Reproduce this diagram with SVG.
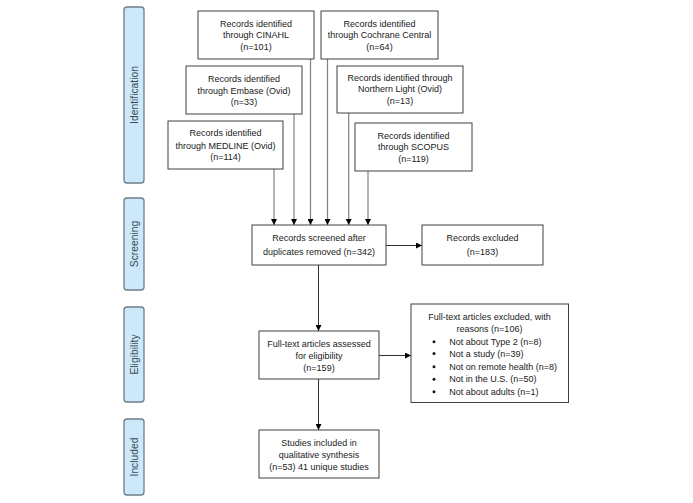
<svg xmlns="http://www.w3.org/2000/svg" width="693" height="503" viewBox="0 0 693 503">
<style>
.bg{fill:#ffffff}
.box{fill:#ffffff;stroke:#404040;stroke-width:1}
.bar{fill:#cce8fb;stroke:#6e7e89;stroke-width:1.3}
.t{font-family:"Liberation Sans",Arial,sans-serif;font-size:9px;fill:#1a1a1a;text-anchor:middle}
.tl{font-family:"Liberation Sans",Arial,sans-serif;font-size:9px;fill:#1a1a1a}
.bt{font-family:"Liberation Sans",Arial,sans-serif;font-size:10.3px;fill:#3c4a55;text-anchor:middle}
.c1{stroke:#808080;stroke-width:1.2;fill:none}
.c2{stroke:#303030;stroke-width:1;fill:none}
</style>
<defs>
<marker id="ah" markerUnits="userSpaceOnUse" markerWidth="6" markerHeight="6" refX="6" refY="3" orient="auto">
<path d="M0,0 L6,3 L0,6 Z" fill="#000"/>
</marker>
</defs>
<rect class="bg" x="0" y="0" width="693" height="503"/>

<g id="bar-identification">
<rect class="bar" x="124" y="7" width="20" height="176" rx="3"/>
<text class="bt" transform="translate(137.8,95) rotate(-90)">Identification</text>
</g>
<g id="bar-screening">
<rect class="bar" x="124" y="198" width="20" height="92" rx="3"/>
<text class="bt" transform="translate(137.8,244) rotate(-90)">Screening</text>
</g>
<g id="bar-eligibility">
<rect class="bar" x="124" y="307" width="20" height="95" rx="3"/>
<text class="bt" transform="translate(137.8,354.5) rotate(-90)">Eligibility</text>
</g>
<g id="bar-included">
<rect class="bar" x="124" y="419" width="20" height="76" rx="3"/>
<text class="bt" transform="translate(137.8,457) rotate(-90)">Included</text>
</g>

<g id="connectors">
<line class="c1" x1="274" y1="169" x2="274" y2="225" marker-end="url(#ah)"/>
<line class="c1" x1="294" y1="114" x2="294" y2="225" marker-end="url(#ah)"/>
<line class="c1" x1="310.5" y1="59" x2="310.5" y2="225" marker-end="url(#ah)"/>
<line class="c1" x1="327.5" y1="59" x2="327.5" y2="225" marker-end="url(#ah)"/>
<line class="c1" x1="348.7" y1="113" x2="348.7" y2="225" marker-end="url(#ah)"/>
<line class="c1" x1="368" y1="171" x2="368" y2="225" marker-end="url(#ah)"/>
<line class="c2" x1="386" y1="245.5" x2="422" y2="245.5" marker-end="url(#ah)"/>
<line class="c2" x1="318.5" y1="265" x2="318.5" y2="331" marker-end="url(#ah)"/>
<line class="c2" x1="379" y1="355.5" x2="411" y2="355.5" marker-end="url(#ah)"/>
<line class="c2" x1="318.5" y1="379" x2="318.5" y2="430" marker-end="url(#ah)"/>
</g>

<g id="cinahl">
<rect class="box" x="198" y="11" width="116" height="48"/>
<text class="t" x="256" y="26.5">Records identified</text>
<text class="t" x="256" y="38">through CINAHL</text>
<text class="t" x="256" y="50">(n=101)</text>
</g>
<g id="cochrane">
<rect class="box" x="321" y="11" width="117" height="48"/>
<text class="t" x="379.5" y="26.5">Records identified</text>
<text class="t" x="379.5" y="38">through Cochrane Central</text>
<text class="t" x="379.5" y="50">(n=64)</text>
</g>
<g id="embase">
<rect class="box" x="186" y="66" width="116" height="48"/>
<text class="t" x="244" y="82">Records identified</text>
<text class="t" x="244" y="93.7">through Embase (Ovid)</text>
<text class="t" x="244" y="105.3">(n=33)</text>
</g>
<g id="northern">
<rect class="box" x="337" y="66" width="126" height="47"/>
<text class="t" x="400" y="80.7">Records identified through</text>
<text class="t" x="400" y="92.3">Northern Light (Ovid)</text>
<text class="t" x="400" y="104">(n=13)</text>
</g>
<g id="medline">
<rect class="box" x="168" y="121" width="115" height="48"/>
<text class="t" x="225.5" y="136.3">Records identified</text>
<text class="t" x="225.5" y="148.7">through MEDLINE (Ovid)</text>
<text class="t" x="225.5" y="160.3">(n=114)</text>
</g>
<g id="scopus">
<rect class="box" x="355" y="123" width="117" height="48"/>
<text class="t" x="413.5" y="138.7">Records identified</text>
<text class="t" x="413.5" y="150.3">through SCOPUS</text>
<text class="t" x="413.5" y="162">(n=119)</text>
</g>
<g id="screened">
<rect class="box" x="252" y="225" width="134" height="40"/>
<text class="t" x="319" y="241.3">Records screened after</text>
<text class="t" x="319" y="254.7">duplicates removed (n=342)</text>
</g>
<g id="excluded">
<rect class="box" x="422" y="225" width="121" height="40"/>
<text class="t" x="482.5" y="241.3">Records excluded</text>
<text class="t" x="482.5" y="254.7">(n=183)</text>
</g>
<g id="fulltext">
<rect class="box" x="259" y="331" width="120" height="48"/>
<text class="t" x="319" y="347">Full-text articles assessed</text>
<text class="t" x="319" y="358.7">for eligibility</text>
<text class="t" x="319" y="371.3">(n=159)</text>
</g>
<g id="fulltext-excluded">
<rect class="box" x="411" y="304" width="157.5" height="98.5"/>
<text class="t" x="489.5" y="319.7">Full-text articles excluded, with</text>
<text class="t" x="489.5" y="332.3">reasons (n=106)</text>
<circle cx="434" cy="341.7" r="1.5" fill="#1a1a1a"/>
<text class="tl" x="449.3" y="344.7">Not about Type 2 (n=8)</text>
<circle cx="434" cy="353.5" r="1.5" fill="#1a1a1a"/>
<text class="tl" x="449.3" y="356.5">Not a study (n=39)</text>
<circle cx="434" cy="366.7" r="1.5" fill="#1a1a1a"/>
<text class="tl" x="449.3" y="369.7">Not on remote health (n=8)</text>
<circle cx="434" cy="379.3" r="1.5" fill="#1a1a1a"/>
<text class="tl" x="449.3" y="382.3">Not in the U.S. (n=50)</text>
<circle cx="434" cy="391.7" r="1.5" fill="#1a1a1a"/>
<text class="tl" x="449.3" y="394.7">Not about adults (n=1)</text>
</g>
<g id="included">
<rect class="box" x="259" y="430" width="120" height="48"/>
<text class="t" x="319" y="446.3">Studies included in</text>
<text class="t" x="319" y="458">qualitative synthesis</text>
<text class="t" x="319" y="469.7">(n=53) 41 unique studies</text>
</g>
</svg>
